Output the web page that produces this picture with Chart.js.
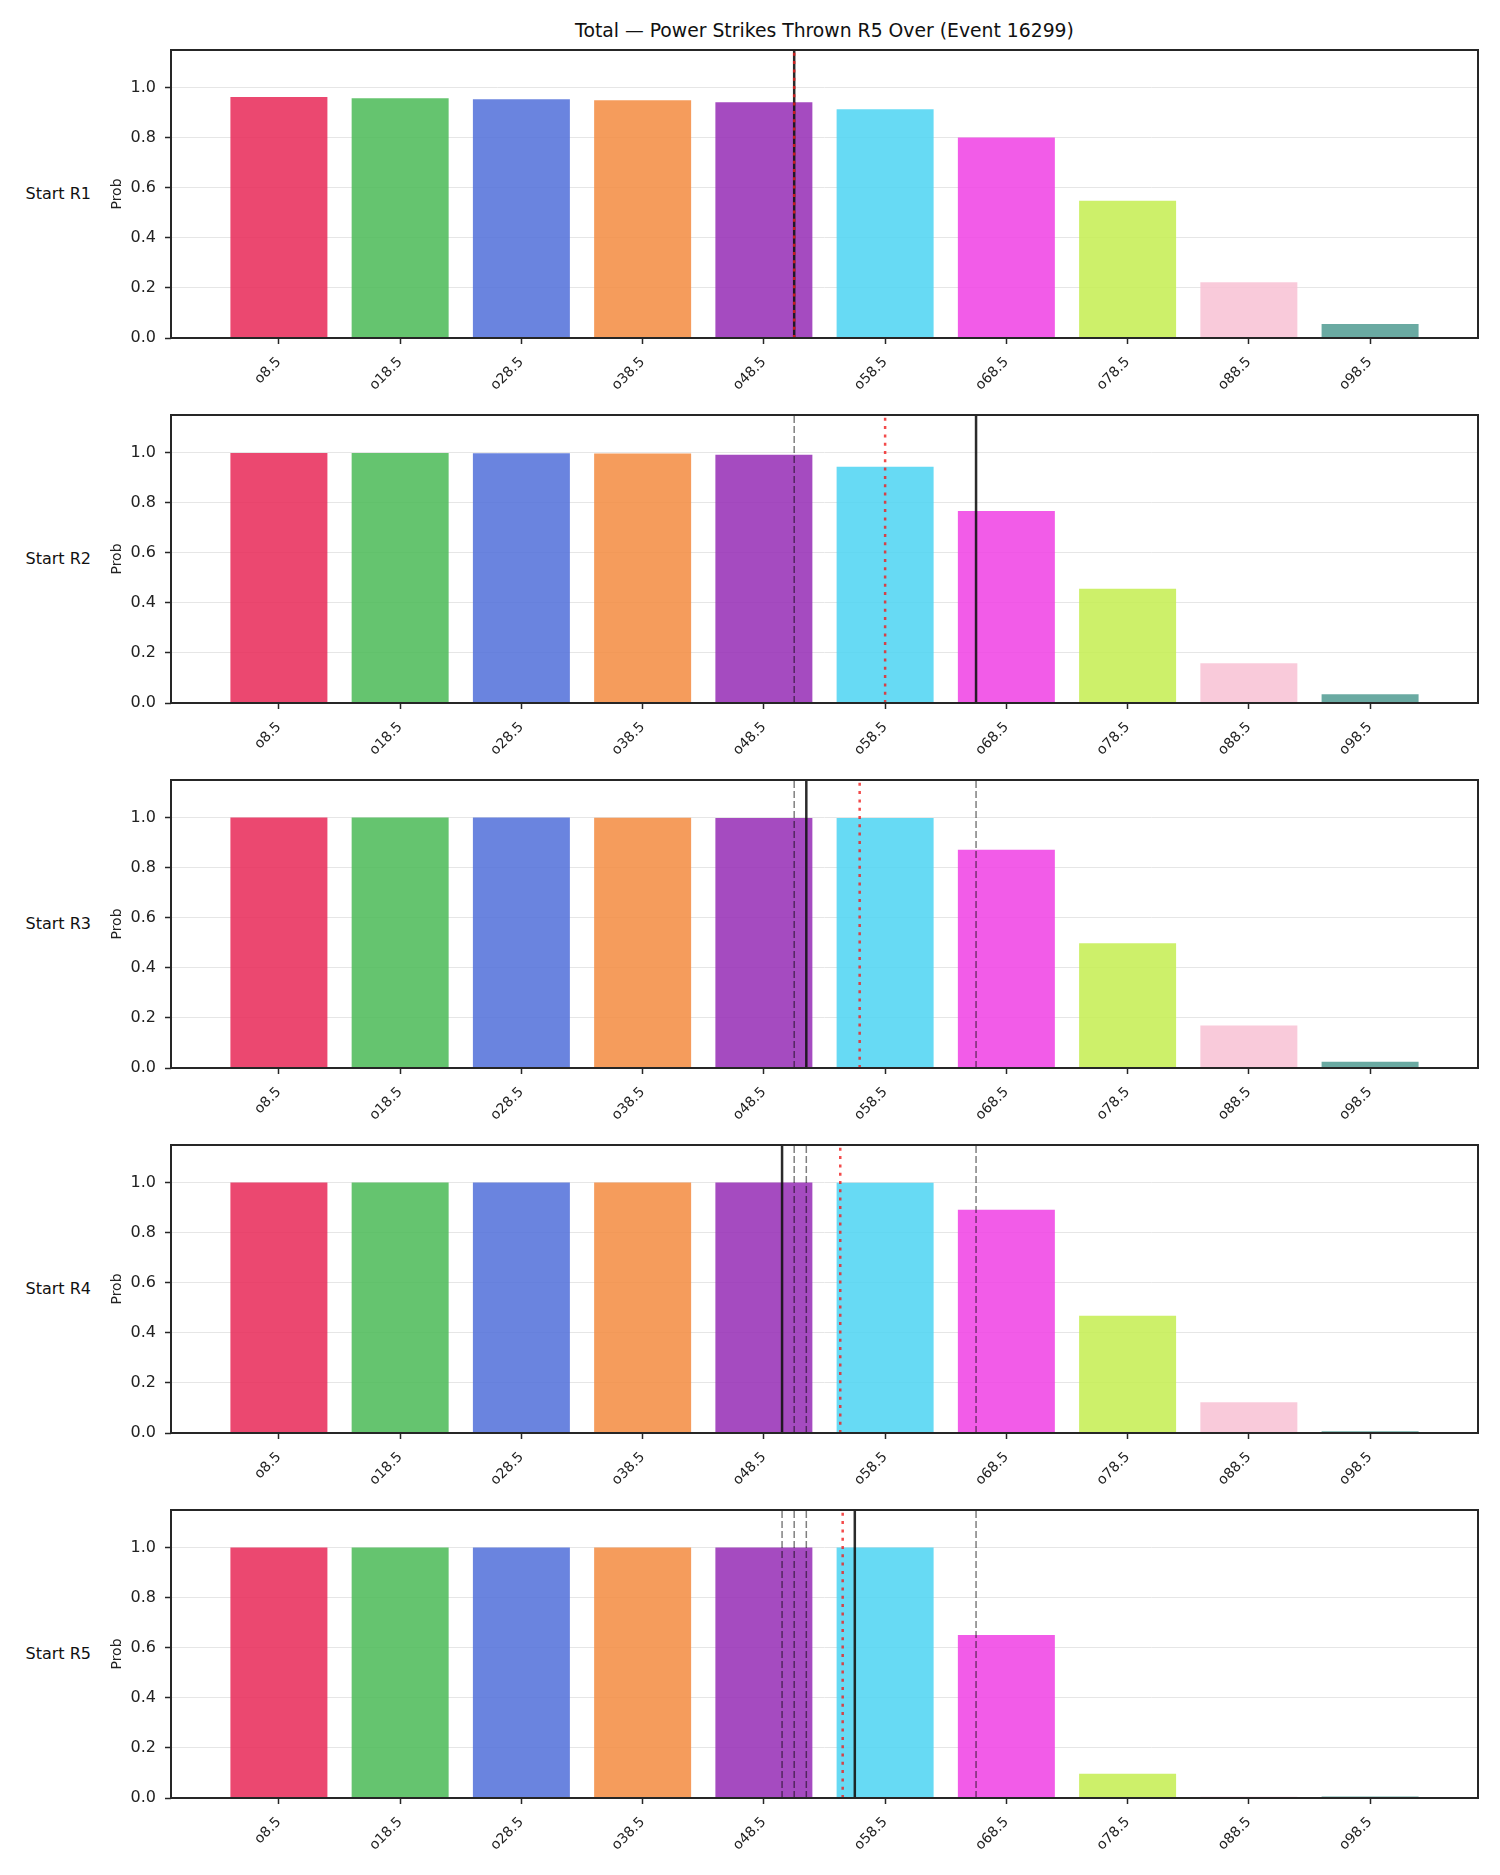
<!DOCTYPE html>
<html>
<head>
<meta charset="utf-8">
<script src="https://cdn.jsdelivr.net/npm/chart.js@4.4.1/dist/chart.umd.min.js"></script>
<style>
  body { margin: 0; background: #fff; font-family: "DejaVu Sans", sans-serif; }
  #wrap { position: relative; width: 1500px; height: 1875px; }
  .title { position: absolute; left: 171px; width: 1307px; top: 20px; text-align: center; font-size: 18.8px; color: #111; }
  .row { position: absolute; left: 0; width: 91px; text-align: right; font-size: 16px; color: #111; }
  canvas { position: absolute; left: 0; }
</style>
</head>
<body>
<div id="wrap">
  <div class="title">Total — Power Strikes Thrown R5 Over (Event 16299)</div>
</div>
<script>
// line values (strikes) and tick labels
const lineValues = [8.5, 18.5, 28.5, 38.5, 48.5, 58.5, 68.5, 78.5, 88.5, 98.5];
const categories = ['o8.5', 'o18.5', 'o28.5', 'o38.5', 'o48.5', 'o58.5', 'o68.5', 'o78.5', 'o88.5', 'o98.5'];
const rounds = ['Start R1', 'Start R2', 'Start R3', 'Start R4', 'Start R5'];

// P(over) per line, one array per starting round
const probR1 = [0.962, 0.957, 0.953, 0.949, 0.941, 0.913, 0.801, 0.548, 0.223, 0.056];
const probR2 = [0.998, 0.998, 0.997, 0.996, 0.991, 0.943, 0.767, 0.456, 0.159, 0.035];
const probR3 = [1.0, 1.0, 1.0, 0.999, 0.998, 0.998, 0.871, 0.498, 0.170, 0.025];
const probR4 = [1.0, 1.0, 1.0, 1.0, 1.0, 0.999, 0.891, 0.468, 0.123, 0.007];
const probR5 = [1.0, 1.0, 1.0, 1.0, 1.0, 1.0, 0.651, 0.097, 0.005, 0.006];
const probs = [probR1, probR2, probR3, probR4, probR5];

// projected total at each round start (solid), market line (dotted)
const projected = [51.0, 66.0, 52.0, 50.0, 56.0];
const market = [51.0, 58.5, 56.4, 54.8, 55.0];

const yTicks = [0, 0.2, 0.4, 0.6, 0.8, 1.0];

const colors = [
  'rgba(231,40,87,0.85)', 'rgba(74,186,86,0.85)', 'rgba(80,110,217,0.85)',
  'rgba(243,139,64,0.85)', 'rgba(149,43,181,0.85)', 'rgba(76,211,242,0.85)',
  'rgba(240,63,228,0.85)', 'rgba(196,237,80,0.85)', 'rgba(248,193,211,0.85)',
  'rgba(80,155,146,0.85)'
];

const FONT = '"DejaVu Sans", sans-serif';
const YMAX = 1.15;

// frame round the plot area, like the matplotlib spines
const framePlugin = {
  id: 'frame',
  afterDraw(chart) {
    const a = chart.chartArea, ctx = chart.ctx;
    ctx.save();
    ctx.strokeStyle = '#262626';
    ctx.lineWidth = 2;
    ctx.strokeRect(a.left, a.top, a.right - a.left, a.bottom - a.top);
    ctx.restore();
  }
};

function vline(x, color, width, dash, order) {
  return {
    type: 'line',
    data: [{ x: x, y: 0 }, { x: x, y: YMAX }],
    borderColor: color,
    borderWidth: width,
    borderDash: dash,
    pointRadius: 0,
    order: order
  };
}

const wrap = document.getElementById('wrap');

probs.forEach((p, i) => {
  const top = 50 + 365 * i;

  const lbl = document.createElement('div');
  lbl.className = 'row';
  lbl.style.top = (top + 144 - 10) + 'px';
  lbl.textContent = rounds[i];
  wrap.appendChild(lbl);

  const cv = document.createElement('canvas');
  cv.width = 1500;
  cv.height = 365;
  cv.style.top = (top - 10) + 'px';
  wrap.appendChild(cv);

  const datasets = [{
    type: 'bar',
    data: lineValues.map((x, k) => ({ x: x, y: p[k] })),
    backgroundColor: colors,
    categoryPercentage: 1,
    barPercentage: 0.8,
    order: 10
  }];
  // earlier projections shown dashed
  for (let j = 0; j < i; j++) {
    datasets.push(vline(projected[j], 'rgba(0,0,0,0.5)', 1.5, [7, 3], 3));
  }
  datasets.push(vline(projected[i], 'rgba(20,20,20,0.9)', 2.5, [], 2));
  datasets.push(vline(market[i], 'rgba(240,30,30,0.8)', 2.5, [3, 5.3], 1));

  new Chart(cv, {
    data: { datasets: datasets },
    plugins: [framePlugin],
    options: {
      responsive: false,
      animation: false,
      layout: { padding: { left: 105, right: 22, top: 10, bottom: 0 } },
      plugins: { legend: { display: false }, tooltip: { enabled: false } },
      scales: {
        x: {
          type: 'linear',
          min: -0.4,
          max: 107.4,
          offset: false,
          afterBuildTicks: s => { s.ticks = lineValues.map(v => ({ value: v })); },
          afterFit: s => { s.height = 67; },
          grid: { offset: false, drawOnChartArea: false, tickLength: 6, tickColor: '#262626', tickWidth: 1.5 },
          border: { display: false },
          ticks: {
            autoSkip: false,
            maxRotation: 45,
            minRotation: 45,
            padding: 10,
            color: '#222',
            font: { family: FONT, size: 14 },
            callback: v => categories[lineValues.indexOf(v)]
          }
        },
        y: {
          min: 0,
          max: YMAX,
          afterBuildTicks: s => { s.ticks = yTicks.map(v => ({ value: v })); },
          afterFit: s => { s.width = 66; s.paddingTop = 0; s.paddingBottom = 0; },
          grid: { color: '#e6e6e6', lineWidth: 1, tickLength: 6, tickColor: '#262626', tickWidth: 1.5 },
          border: { display: false },
          title: { display: true, text: 'Prob', color: '#222', font: { family: FONT, size: 14 } },
          ticks: {
            padding: 9,
            color: '#222',
            font: { family: FONT, size: 16 },
            callback: v => v.toFixed(1)
          }
        }
      }
    }
  });
});
</script>
</body>
</html>
